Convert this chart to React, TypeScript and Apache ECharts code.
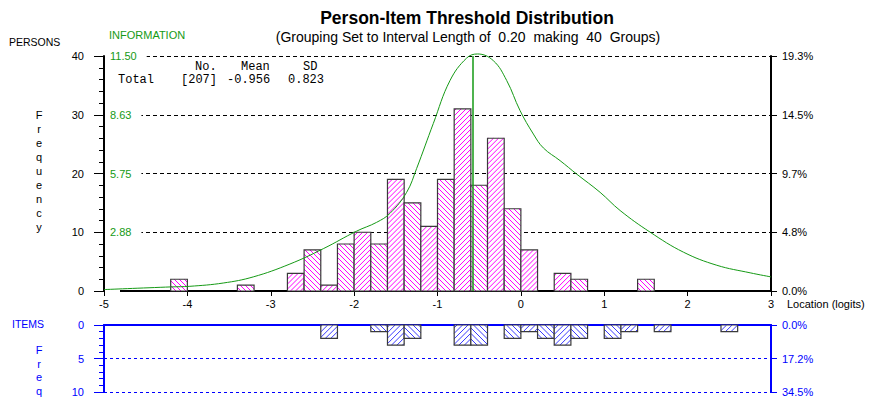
import React, { useEffect, useRef } from "react";
import * as echarts from "echarts";

// ---------- data ----------
const binWidth = 0.2;
const personBinStarts = [-4.2, -3.4, -2.8, -2.6, -2.4, -2.2, -2.0, -1.8, -1.6, -1.4, -1.2, -1.0, -0.8, -0.6, -0.4, -0.2, 0.0, 0.4, 0.6, 1.4];
const personCounts = [2, 1, 3, 7, 1, 8, 10, 8, 19, 15, 11, 19, 31, 18, 26, 14, 7, 3, 2, 2];
const itemBinStarts = [-2.4, -1.8, -1.6, -1.4, -0.8, -0.6, -0.2, 0.0, 0.2, 0.4, 0.6, 1.0, 1.2, 1.6, 2.4];
const itemCounts = [2, 1, 3, 2, 3, 3, 2, 1, 2, 3, 2, 2, 1, 1, 1];
const infoLocations = [-5.0, -4.2, -3.97, -3.57, -3.21, -2.77, -2.37, -1.97, -1.73, -1.57, -1.37, -1.25, -1.05, -0.85, -0.65, -0.52, -0.33, -0.17, -0.01, 0.15, 0.27, 0.47, 0.67, 0.95, 1.19, 1.55, 1.95, 2.35, 2.75, 3.0];
const infoValues = [0.07, 0.2, 0.23, 0.39, 0.69, 1.32, 2.07, 2.93, 3.36, 3.8, 4.83, 6.0, 8.2, 10.3, 11.4, 11.6, 11.27, 10.3, 8.83, 7.68, 7.0, 6.38, 5.72, 4.83, 3.94, 2.88, 1.9, 1.26, 0.89, 0.69];
const infoMaxLocation = -0.58;
const xTicks = { min: -5, max: 3 };
const freqAxis = { max: 40, interval: 10 };
const infoAxis = { max: 11.5, interval: 2.875 };
const itemAxis = { max: 10, interval: 5 };
const statsHeader = ["No.", "Mean", "SD"];
const statsRow = ["Total", "[207]", "-0.956", "0.823"];

const totalPersons = personCounts.reduce((a, b) => a + b, 0);
const totalItems = itemCounts.reduce((a, b) => a + b, 0);

const GREEN = "#159a15";
const BLUE = "#0000ff";
const FONT = "Liberation Sans, Arial, sans-serif";
const MONO = "Liberation Mono, DejaVu Sans Mono, monospace";

function hatchRenderer(color: string, spacing: number) {
  return (params: any, api: any) => {
    const start = api.value(0);
    const end = api.value(1);
    const v = api.value(2);
    const pa = api.coord([start, 0]);
    const pb = api.coord([end, v]);
    const left = Math.min(pa[0], pb[0]);
    const right = Math.max(pa[0], pb[0]);
    const top = Math.min(pa[1], pb[1]);
    const bottom = Math.max(pa[1], pb[1]);
    const k = Math.round((start - xTicks.min) / binWidth);
    const rising = k % 2 === 1; // "/" for odd groups, "\" for even
    const children: any[] = [
      { type: "rect", shape: { x: left, y: top, width: right - left, height: bottom - top }, style: { fill: "#fff", stroke: null } },
    ];
    // falling lines: y - x = c (mirrored for rising groups)
    const cStart = Math.ceil((top - right) / spacing) * spacing;
    for (let c = cStart; c <= bottom - left; c += spacing) {
      const xa = Math.max(left, top - c);
      const xb = Math.min(right, bottom - c);
      if (xb - xa > 0.3) {
        let ax = xa, bx = xb;
        const ay = xa + c, by = xb + c;
        if (rising) {
          ax = left + right - ax;
          bx = left + right - bx;
        }
        children.push({ type: "line", shape: { x1: ax, y1: ay, x2: bx, y2: by }, style: { stroke: color, lineWidth: 1, fill: null } });
      }
    }
    children.push({ type: "rect", shape: { x: left, y: top, width: right - left, height: bottom - top }, style: { fill: null, stroke: "#3a3a3a", lineWidth: 1.2 } });
    return { type: "group", children };
  };
}

export default function App() {
  const ref = useRef<HTMLDivElement>(null);
  useEffect(() => {
    if (!ref.current) return;
    const chart = echarts.init(ref.current, null, { renderer: "svg" });

    const personData = personBinStarts.map((s, i) => [s, s + binWidth, personCounts[i]]);
    const itemData = itemBinStarts.map((s, i) => [s, s + binWidth, itemCounts[i]]);
    const infoData = infoLocations.map((x, i) => [x, infoValues[i]]);

    const letters = (word: string, x: number, y0: number, step: number, color: string) =>
      word.split("").map((ch, i) => ({
        type: "text",
        x,
        y: y0 + i * step,
        style: { text: ch, fill: color, font: `11px ${FONT}`, textAlign: "center", textVerticalAlign: "middle" },
      }));

    const txt = (text: string, x: number, y: number, font: string, fill = "#000", align = "left") => ({
      type: "text", x, y, style: { text, fill, font, textAlign: align, textVerticalAlign: "middle" },
    });

    const option: any = {
      animation: false,
      backgroundColor: "#fff",
      textStyle: { fontFamily: FONT },
      grid: [
        { left: 104, right: 103, top: 56, height: 235 },
        { left: 104, right: 103, top: 325, height: 67 },
      ],
      xAxis: [
        {
          gridIndex: 0, type: "value", min: xTicks.min, max: xTicks.max, interval: 1, position: "bottom",
          axisLine: { onZero: false, lineStyle: { color: "#000", width: 2 } },
          axisTick: { length: 5, lineStyle: { color: "#000" } },
          axisLabel: { color: "#000", fontSize: 11, margin: 7 },
          splitLine: { show: false },
        },
        {
          gridIndex: 1, type: "value", min: xTicks.min, max: xTicks.max, interval: 1, position: "top",
          axisLine: { onZero: false, lineStyle: { color: BLUE, width: 2 } },
          axisTick: { show: false }, axisLabel: { show: false }, splitLine: { show: false },
        },
      ],
      yAxis: [
        {
          gridIndex: 0, type: "value", position: "left", min: 0, max: freqAxis.max, interval: freqAxis.interval,
          axisLine: { show: true, onZero: false, lineStyle: { color: "#000", width: 2 } },
          axisTick: { show: true, length: 10, lineStyle: { color: "#000" } },
          minorTick: { show: true, splitNumber: 5, length: 5, lineStyle: { color: "#000" } },
          axisLabel: { color: "#000", fontSize: 11, margin: 20 },
          splitLine: { show: true, lineStyle: { color: "#000", type: [4, 3], width: 1 } },
        },
        {
          gridIndex: 0, type: "value", position: "left", min: 0, max: infoAxis.max, interval: infoAxis.interval,
          axisLine: { show: false, onZero: false }, axisTick: { show: false }, splitLine: { show: false },
          axisLabel: {
            inside: true, color: GREEN, fontSize: 11, margin: 1,
            backgroundColor: "#fff", padding: [1, 10, 1, 5],
            formatter: (v: number) => (v === 0 ? "" : v.toFixed(2)),
          },
        },
        {
          gridIndex: 0, type: "value", position: "right", min: 0, max: freqAxis.max, interval: freqAxis.interval,
          axisLine: { show: true, onZero: false, lineStyle: { color: "#000", width: 2 } },
          axisTick: { show: true, length: 6, lineStyle: { color: "#000" } },
          axisLabel: { color: "#000", fontSize: 11, margin: 11, formatter: (v: number) => ((v / totalPersons) * 100).toFixed(1) + "%" },
          splitLine: { show: false },
        },
        {
          gridIndex: 1, type: "value", position: "left", inverse: true, min: 0, max: itemAxis.max, interval: itemAxis.interval,
          axisLine: { show: true, onZero: false, lineStyle: { color: BLUE, width: 2 } },
          axisTick: { show: true, length: 10, lineStyle: { color: BLUE } },
          minorTick: { show: true, splitNumber: 5, length: 5, lineStyle: { color: BLUE } },
          axisLabel: { color: BLUE, fontSize: 11, margin: 20 },
          splitLine: { show: true, lineStyle: { color: BLUE, type: [3, 3], width: 1 } },
        },
        {
          gridIndex: 1, type: "value", position: "right", inverse: true, min: 0, max: itemAxis.max, interval: itemAxis.interval,
          axisLine: { show: true, onZero: false, lineStyle: { color: BLUE, width: 2 } },
          axisTick: { show: true, length: 6, lineStyle: { color: BLUE } },
          axisLabel: { color: BLUE, fontSize: 11, margin: 11, formatter: (v: number) => ((v / totalItems) * 100).toFixed(1) + "%" },
          splitLine: { show: false },
        },
      ],
      series: [
        {
          type: "custom", name: "Persons", xAxisIndex: 0, yAxisIndex: 0,
          renderItem: hatchRenderer("#ff00ff", 5), data: personData,
          encode: { x: [0, 1], y: 2 }, z: 2,
        },
        {
          type: "line", name: "Information", xAxisIndex: 0, yAxisIndex: 1,
          data: infoData, smooth: 0.4, symbol: "none", z: 3, clip: false,
          lineStyle: { color: GREEN, width: 1 },
          markLine: {
            silent: true, symbol: "none", label: { show: false },
            lineStyle: { color: GREEN, width: 1.5, type: "solid" },
            data: [{ xAxis: infoMaxLocation }],
          },
        },
        {
          type: "custom", name: "Items", xAxisIndex: 1, yAxisIndex: 3,
          renderItem: hatchRenderer("#3a3aff", 5.5), data: itemData,
          encode: { x: [0, 1], y: 2 }, z: 2,
        },
      ],
      graphic: [
        txt("Person-Item Threshold Distribution", 467, 18, `bold 17.5px ${FONT}`, "#000", "center"),
        txt("(Grouping Set to Interval Length of  0.20  making  40  Groups)", 468, 37, `14px ${FONT}`, "#000", "center"),
        txt("PERSONS", 9, 42, `10.5px ${FONT}`),
        txt("INFORMATION", 109, 35, `11px ${FONT}`, GREEN),
        ...letters("Frequency", 39, 115, 14, "#000"),
        txt("Location (logits)", 787, 304, `11px ${FONT}`),
        txt("ITEMS", 12, 324, `10.5px ${FONT}`, BLUE),
        ...letters("Freq", 39, 350, 13.5, BLUE),
        txt(statsHeader[0], 195, 67, `12px ${MONO}`),
        txt(statsHeader[1], 241, 67, `12px ${MONO}`),
        txt(statsHeader[2], 303, 67, `12px ${MONO}`),
        txt(statsRow[0], 118, 80, `12px ${MONO}`),
        txt(statsRow[1], 181, 80, `12px ${MONO}`),
        txt(statsRow[2], 227, 80, `12px ${MONO}`),
        txt(statsRow[3], 288, 80, `12px ${MONO}`),
      ],
    };
    chart.setOption(option);
    return () => chart.dispose();
  }, []);
  return <div ref={ref} style={{ width: 874, height: 403, position: "absolute", left: 0, top: 0 }} />;
}
